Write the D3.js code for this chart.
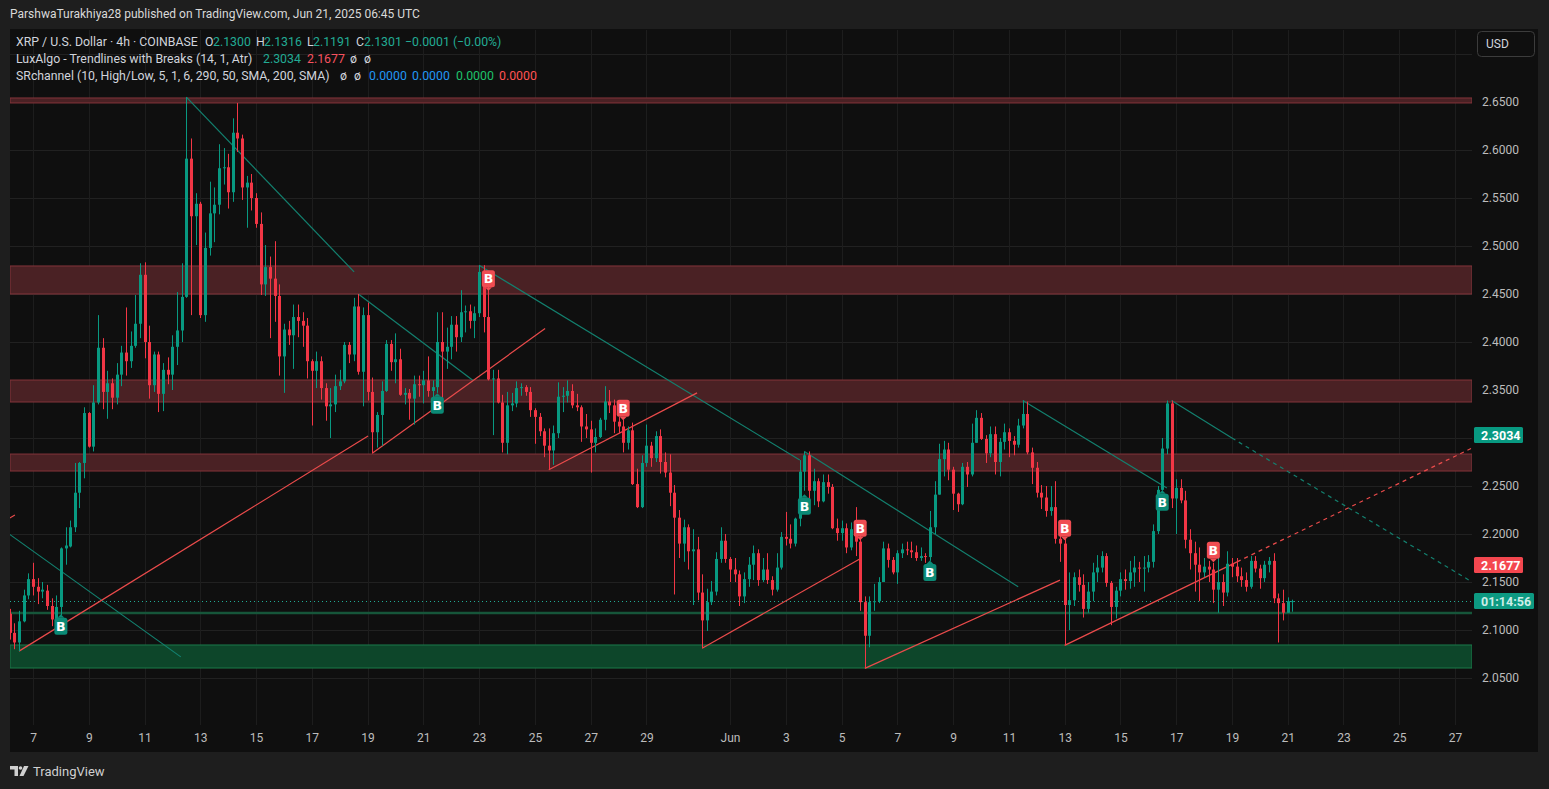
<!DOCTYPE html>
<html>
<head>
<meta charset="utf-8">
<script src="https://cdn.jsdelivr.net/npm/d3@7"></script>
<style>
  body { margin: 0; background: #1e1e1e; }
  svg { display: block; font-family: Roboto, "Noto Sans", sans-serif; }
</style>
</head>
<body>
<div id="chart"></div>
<script>
// 4h XRP/USD bars, first bar 2025-05-06 04:00 UTC
var barStart = Date.UTC(2025, 4, 6, 4),
    barStep = 4 * 3600 * 1000;

var opens = [
 2.117,2.097,2.087,2.109,2.136,2.153,2.145,2.140,2.141,2.125,
 2.111,2.124,2.185,2.187,2.207,2.243,2.274,2.326,2.291,2.337,
 2.394,2.348,2.357,2.342,2.366,2.389,2.380,2.396,2.419,2.470,
 2.400,2.355,2.387,2.346,2.371,2.366,2.395,2.412,2.447,2.591,
 2.531,2.544,2.428,2.498,2.534,2.543,2.581,2.582,2.556,2.618,
 2.612,2.561,2.566,2.550,2.523,2.460,2.478,2.466,2.448,2.385,
 2.413,2.407,2.426,2.422,2.417,2.380,2.370,2.380,2.352,2.333,
 2.335,2.354,2.359,2.397,2.387,2.437,2.369,2.428,2.348,2.306,
 2.324,2.349,2.398,2.379,2.382,2.345,2.347,2.341,2.356,2.355,
 2.360,2.349,2.353,2.400,2.390,2.395,2.418,2.405,2.431,2.432,
 2.422,2.430,2.473,2.426,2.361,2.362,2.337,2.295,2.334,2.336,
 2.352,2.353,2.348,2.329,2.322,2.307,2.292,2.287,2.305,2.343,
 2.344,2.349,2.334,2.332,2.312,2.309,2.295,2.301,2.319,2.338,
 2.334,2.317,2.312,2.295,2.308,2.252,2.228,2.274,2.292,2.279,
 2.302,2.275,2.264,2.243,2.217,2.190,2.207,2.182,2.184,2.139,
 2.110,2.129,2.140,2.174,2.193,2.174,2.163,2.158,2.135,2.153,
 2.168,2.180,2.152,2.163,2.152,2.142,2.165,2.197,2.195,2.190,
 2.216,2.265,2.282,2.245,2.255,2.234,2.254,2.249,2.206,2.201,
 2.206,2.186,2.205,2.192,2.129,2.094,2.129,2.130,2.150,2.185,
 2.173,2.160,2.180,2.184,2.183,2.181,2.175,2.177,2.176,2.207,
 2.241,2.278,2.288,2.267,2.242,2.231,2.270,2.262,2.295,2.321,
 2.299,2.284,2.304,2.275,2.296,2.306,2.297,2.293,2.313,2.325,
 2.285,2.269,2.243,2.238,2.224,2.228,2.195,2.190,2.126,2.131,
 2.155,2.147,2.122,2.140,2.160,2.165,2.177,2.149,2.124,2.141,
 2.153,2.151,2.160,2.165,2.164,2.165,2.171,2.203,2.246,2.289,
 2.336,2.237,2.248,2.235,2.194,2.180,2.168,2.160,2.166,2.163,
 2.142,2.150,2.139,2.169,2.166,2.156,2.152,2.145,2.172,2.164,
 2.154,2.168,2.172,2.133,2.128,2.118,2.1300
];
var highs = [
 2.122,2.107,2.120,2.142,2.159,2.170,2.154,2.150,2.147,2.133,
 2.136,2.186,2.207,2.214,2.274,2.275,2.332,2.327,2.355,2.428,
 2.404,2.370,2.362,2.378,2.396,2.436,2.411,2.449,2.482,2.483,
 2.417,2.390,2.390,2.378,2.384,2.407,2.452,2.482,2.655,2.612,
 2.555,2.546,2.514,2.567,2.561,2.606,2.602,2.596,2.633,2.649,
 2.616,2.573,2.575,2.555,2.535,2.501,2.489,2.505,2.460,2.419,
 2.422,2.439,2.439,2.431,2.425,2.382,2.390,2.385,2.357,2.352,
 2.366,2.371,2.400,2.400,2.446,2.450,2.436,2.441,2.363,2.327,
 2.359,2.402,2.402,2.409,2.393,2.352,2.351,2.365,2.365,2.370,
 2.385,2.360,2.431,2.431,2.415,2.427,2.427,2.454,2.438,2.439,
 2.437,2.480,2.480,2.465,2.371,2.371,2.345,2.348,2.347,2.359,
 2.357,2.355,2.353,2.331,2.326,2.310,2.310,2.313,2.358,2.353,
 2.360,2.356,2.346,2.334,2.325,2.318,2.310,2.321,2.354,2.350,
 2.340,2.322,2.319,2.312,2.316,2.268,2.282,2.314,2.296,2.307,
 2.309,2.285,2.283,2.251,2.225,2.215,2.210,2.205,2.197,2.158,
 2.143,2.151,2.181,2.207,2.200,2.176,2.175,2.162,2.160,2.176,
 2.188,2.184,2.175,2.180,2.156,2.180,2.202,2.223,2.210,2.217,
 2.277,2.286,2.286,2.268,2.258,2.262,2.262,2.252,2.216,2.214,
 2.211,2.212,2.228,2.198,2.135,2.135,2.148,2.155,2.192,2.190,
 2.176,2.183,2.190,2.192,2.192,2.188,2.186,2.180,2.224,2.255,
 2.294,2.297,2.295,2.270,2.243,2.274,2.275,2.315,2.329,2.326,
 2.303,2.312,2.312,2.300,2.315,2.310,2.302,2.320,2.339,2.338,
 2.290,2.275,2.251,2.250,2.250,2.255,2.205,2.195,2.160,2.160,
 2.163,2.158,2.150,2.170,2.178,2.182,2.180,2.151,2.145,2.160,
 2.163,2.172,2.177,2.171,2.177,2.178,2.210,2.250,2.300,2.339,
 2.339,2.257,2.257,2.245,2.205,2.192,2.186,2.175,2.172,2.170,
 2.175,2.158,2.182,2.175,2.175,2.165,2.160,2.177,2.177,2.168,
 2.172,2.176,2.180,2.138,2.142,2.134,2.1316
];
var lows = [
 2.090,2.080,2.078,2.108,2.132,2.136,2.127,2.133,2.121,2.104,
 2.105,2.115,2.168,2.186,2.202,2.227,2.258,2.290,2.286,2.335,
 2.330,2.320,2.330,2.335,2.354,2.365,2.373,2.394,2.404,2.383,
 2.341,2.348,2.327,2.328,2.356,2.350,2.376,2.400,2.446,2.428,
 2.501,2.425,2.421,2.490,2.504,2.533,2.564,2.539,2.546,2.598,
 2.548,2.519,2.537,2.519,2.449,2.448,2.404,2.421,2.365,2.347,
 2.397,2.372,2.405,2.395,2.362,2.313,2.352,2.340,2.318,2.300,
 2.327,2.350,2.357,2.378,2.380,2.366,2.333,2.339,2.284,2.290,
 2.292,2.348,2.370,2.357,2.344,2.335,2.319,2.314,2.343,2.336,
 2.343,2.335,2.347,2.337,2.372,2.382,2.390,2.400,2.410,2.414,
 2.404,2.426,2.410,2.360,2.303,2.336,2.285,2.283,2.328,2.332,
 2.344,2.344,2.322,2.294,2.302,2.280,2.267,2.272,2.300,2.327,
 2.337,2.331,2.328,2.296,2.300,2.264,2.285,2.300,2.308,2.326,
 2.305,2.305,2.285,2.288,2.251,2.227,2.227,2.270,2.270,2.275,
 2.263,2.259,2.229,2.137,2.175,2.171,2.163,2.126,2.131,2.081,
 2.099,2.126,2.136,2.170,2.170,2.150,2.150,2.125,2.128,2.145,
 2.152,2.146,2.150,2.148,2.136,2.140,2.163,2.188,2.185,2.187,
 2.208,2.245,2.236,2.230,2.228,2.233,2.242,2.205,2.193,2.193,
 2.180,2.183,2.177,2.120,2.060,2.082,2.120,2.128,2.150,2.165,
 2.158,2.148,2.175,2.178,2.175,2.172,2.172,2.170,2.172,2.200,
 2.241,2.260,2.256,2.225,2.223,2.230,2.249,2.260,2.295,2.298,
 2.274,2.280,2.262,2.260,2.288,2.280,2.282,2.290,2.310,2.283,
 2.252,2.238,2.226,2.218,2.219,2.190,2.171,2.084,2.100,2.125,
 2.140,2.113,2.118,2.130,2.150,2.160,2.145,2.105,2.112,2.135,
 2.142,2.143,2.145,2.150,2.140,2.160,2.165,2.200,2.245,2.283,
 2.227,2.200,2.232,2.185,2.163,2.140,2.130,2.155,2.150,2.128,
 2.118,2.125,2.135,2.155,2.150,2.145,2.140,2.143,2.160,2.143,
 2.150,2.160,2.128,2.087,2.110,2.118,2.1191
];
var closes = [
 2.097,2.087,2.109,2.136,2.153,2.145,2.140,2.142,2.125,2.111,
 2.124,2.185,2.188,2.207,2.243,2.274,2.326,2.291,2.337,2.394,
 2.348,2.357,2.342,2.366,2.389,2.380,2.396,2.419,2.470,2.400,
 2.355,2.387,2.346,2.371,2.366,2.395,2.412,2.447,2.591,2.531,
 2.544,2.428,2.498,2.534,2.543,2.581,2.582,2.556,2.618,2.612,
 2.561,2.566,2.550,2.523,2.460,2.478,2.466,2.448,2.385,2.413,
 2.407,2.426,2.422,2.417,2.380,2.370,2.380,2.352,2.333,2.335,
 2.354,2.359,2.397,2.387,2.437,2.369,2.428,2.348,2.306,2.324,
 2.349,2.398,2.379,2.382,2.345,2.347,2.341,2.356,2.355,2.360,
 2.349,2.353,2.400,2.390,2.395,2.418,2.405,2.431,2.432,2.422,
 2.430,2.473,2.426,2.361,2.362,2.337,2.295,2.334,2.336,2.352,
 2.353,2.348,2.329,2.322,2.307,2.292,2.287,2.305,2.343,2.344,
 2.349,2.334,2.332,2.312,2.309,2.295,2.301,2.319,2.338,2.334,
 2.317,2.312,2.295,2.308,2.252,2.228,2.274,2.292,2.279,2.302,
 2.275,2.264,2.243,2.217,2.190,2.207,2.182,2.184,2.139,2.110,
 2.129,2.140,2.174,2.193,2.174,2.163,2.158,2.135,2.153,2.168,
 2.180,2.152,2.163,2.152,2.142,2.165,2.197,2.195,2.190,2.216,
 2.265,2.282,2.245,2.255,2.234,2.254,2.249,2.206,2.201,2.206,
 2.186,2.205,2.192,2.129,2.094,2.129,2.130,2.150,2.185,2.173,
 2.160,2.180,2.184,2.183,2.181,2.175,2.177,2.176,2.207,2.241,
 2.278,2.288,2.267,2.242,2.231,2.270,2.262,2.295,2.321,2.299,
 2.284,2.304,2.275,2.296,2.306,2.297,2.293,2.313,2.325,2.285,
 2.269,2.243,2.238,2.224,2.228,2.195,2.190,2.126,2.131,2.155,
 2.147,2.122,2.140,2.160,2.165,2.177,2.149,2.124,2.141,2.153,
 2.151,2.160,2.165,2.164,2.165,2.171,2.203,2.246,2.289,2.336,
 2.237,2.248,2.235,2.194,2.180,2.168,2.160,2.166,2.163,2.142,
 2.150,2.139,2.169,2.166,2.156,2.152,2.145,2.172,2.164,2.154,
 2.168,2.172,2.133,2.128,2.118,2.130,2.1301
];

// axis ticks (2.30 label is hidden behind the upper trendline tag)
var priceTicks = [2.05, 2.10, 2.15, 2.20, 2.25, 2.35, 2.40, 2.45, 2.50, 2.55, 2.60, 2.65];
var gridPrices = [2.05, 2.10, 2.15, 2.20, 2.25, 2.30, 2.35, 2.40, 2.45, 2.50, 2.55, 2.60, 2.65, 2.70];
var dateTicks = ["2025-05-07","2025-05-09","2025-05-11","2025-05-13","2025-05-15","2025-05-17",
                 "2025-05-19","2025-05-21","2025-05-23","2025-05-25","2025-05-27","2025-05-29",
                 "2025-06-01","2025-06-03","2025-06-05","2025-06-07","2025-06-09","2025-06-11",
                 "2025-06-13","2025-06-15","2025-06-17","2025-06-19","2025-06-21","2025-06-23",
                 "2025-06-25","2025-06-27"];

// SR channel zones [low, high]
var resistZones = [[2.6490, 2.6542], [2.4500, 2.4792], [2.3375, 2.3604], [2.2656, 2.2833]];
var supportZone = [2.0604, 2.0844];
var supportLevel = 2.1177;

// LuxAlgo trendlines: [bar1, price1, bar2, price2, extendBar, extendPrice]
var downTrends = [
  [-1, 2.203, 36.8, 2.072],
  [38, 2.655, 74.1, 2.473],
  [75, 2.450, 99.7, 2.360],
  [101, 2.480, 170, 2.277],
  [171, 2.286, 217, 2.145],
  [218, 2.339, 249, 2.248],
  [250, 2.339, 263, 2.300, 314.7, 2.150]
];
var upTrends = [
  [0, 2.2167, 1.1, 2.2198],
  [2, 2.078, 77.1, 2.302],
  [78, 2.284, 115.2, 2.414],
  [116, 2.267, 147.9, 2.347],
  [149, 2.081, 182.9, 2.174],
  [184, 2.060, 226, 2.152],
  [227, 2.084, 264.1, 2.171, 314.7, 2.2897]
];
// break labels [bar, price]
var breaksUp = [[11, 2.104], [92, 2.334], [171, 2.229], [198, 2.160], [248, 2.233]];
var breaksDown = [[103, 2.466], [132, 2.331], [183, 2.206], [227, 2.206], [259, 2.183]];

var lastPrice = 2.1301, upperValue = 2.3034, lowerValue = 2.1677, countdown = "01:14:56";

var W = 1549, H = 789;
var plotL = 10, plotR = 1472, plotT = 30, plotB = 725;
var upColor = "#089981", downColor = "#f23645";

var x = d3.scaleUtc()
    .domain([new Date(Date.UTC(2025, 4, 7)), new Date(Date.UTC(2025, 5, 27))])
    .range([33, 1455]);
var y = d3.scaleLinear().domain([2.05, 2.65]).range([678, 102]);
function bx(b) { return x(new Date(barStart + b * barStep)); }

var svg = d3.select("#chart").append("svg").attr("width", W).attr("height", H);
svg.append("rect").attr("width", W).attr("height", H).attr("fill", "#1e1e1e");
svg.append("rect").attr("x", 10).attr("y", 29).attr("width", 1528).attr("height", 723).attr("fill", "#0f0f0f");

svg.append("clipPath").attr("id", "plotclip").append("rect")
   .attr("x", plotL).attr("y", plotT).attr("width", plotR - plotL).attr("height", plotB - plotT);

// grid
var grid = svg.append("g").attr("id", "grid");
grid.selectAll("line.h").data(gridPrices).enter().append("line")
    .attr("class", "h")
    .attr("x1", plotL).attr("x2", plotR)
    .attr("y1", function(d) { return Math.round(y(d)) + 0.5; })
    .attr("y2", function(d) { return Math.round(y(d)) + 0.5; })
    .attr("stroke", "#212121");
grid.selectAll("line.v").data(dateTicks).enter().append("line")
    .attr("class", "v")
    .attr("x1", function(d) { return Math.round(x(new Date(d))) + 0.5; })
    .attr("x2", function(d) { return Math.round(x(new Date(d))) + 0.5; })
    .attr("y1", plotT).attr("y2", plotB)
    .attr("stroke", "#1d1d1d");

var plot = svg.append("g").attr("clip-path", "url(#plotclip)");

// zones
plot.selectAll("rect.rz").data(resistZones).enter().append("rect")
    .attr("class", "rz")
    .attr("x", plotL).attr("width", plotR - plotL)
    .attr("y", function(d) { return y(d[1]); })
    .attr("height", function(d) { return y(d[0]) - y(d[1]); })
    .attr("fill", "#4a2124").attr("stroke", "#83343a").attr("stroke-width", 1);
plot.append("rect")
    .attr("x", plotL).attr("width", plotR - plotL)
    .attr("y", y(supportZone[1])).attr("height", y(supportZone[0]) - y(supportZone[1]))
    .attr("fill", "#0d462a").attr("stroke", "#1c7a4a");
plot.append("line")
    .attr("x1", plotL).attr("x2", plotR)
    .attr("y1", y(supportLevel)).attr("y2", y(supportLevel))
    .attr("stroke", "#16563a").attr("stroke-width", 2.5);

// last price dotted line
plot.append("line")
    .attr("x1", plotL).attr("x2", plotR)
    .attr("y1", Math.round(y(lastPrice)) + 0.5).attr("y2", Math.round(y(lastPrice)) + 0.5)
    .attr("stroke", "#22ab94").attr("stroke-dasharray", "1,3");

// trendlines
function drawTrends(data, color) {
  data.forEach(function(t) {
    plot.append("line")
        .attr("x1", bx(t[0])).attr("y1", y(t[1]))
        .attr("x2", bx(t[2])).attr("y2", y(t[3]))
        .attr("stroke", color).attr("stroke-width", 1.2);
    if (t.length > 4) {
      plot.append("line")
          .attr("x1", bx(t[2])).attr("y1", y(t[3]))
          .attr("x2", bx(t[4])).attr("y2", y(t[5]))
          .attr("stroke", color).attr("stroke-width", 1.2)
          .attr("stroke-dasharray", "4,4");
    }
  });
}
drawTrends(downTrends, "#13806f");
drawTrends(upTrends, "#ea4b4b");

// candles
var bars = d3.range(closes.length).map(function(i) {
  return { i: i, o: opens[i], h: Math.max(highs[i], opens[i], closes[i]),
           l: Math.min(lows[i], opens[i], closes[i]), c: closes[i] };
});
var candle = plot.append("g").selectAll("g").data(bars).enter().append("g");
candle.append("line")
    .attr("x1", function(d) { return Math.round(bx(d.i)) + 0.5; })
    .attr("x2", function(d) { return Math.round(bx(d.i)) + 0.5; })
    .attr("y1", function(d) { return y(d.h); })
    .attr("y2", function(d) { return y(d.l); })
    .attr("stroke", function(d) { return d.c >= d.o ? upColor : downColor; });
candle.append("rect")
    .attr("x", function(d) { return Math.round(bx(d.i)) - 1; })
    .attr("width", 3)
    .attr("y", function(d) { return y(Math.max(d.o, d.c)); })
    .attr("height", function(d) { return Math.max(1, Math.abs(y(d.o) - y(d.c))); })
    .attr("fill", function(d) { return d.c >= d.o ? upColor : downColor; });

// break labels
function drawBreaks(data, color, up) {
  var g = plot.append("g").selectAll("g").data(data).enter().append("g")
      .attr("transform", function(d) { return "translate(" + bx(d[0]) + "," + y(d[1]) + ")"; });
  g.append("rect").attr("x", -6.5).attr("y", -8.5).attr("width", 13).attr("height", 17)
      .attr("rx", 2.5).attr("fill", color);
  g.append("path").attr("d", up ? "M-3.5,-8.5L0,-12L3.5,-8.5Z" : "M-3.5,8.5L0,12L3.5,8.5Z").attr("fill", color);
  g.append("text").attr("text-anchor", "middle").attr("y", 4.5)
      .attr("font-size", 12.5).attr("font-weight", 700).attr("fill", "#ffffff")
      .attr("font-family", "'DejaVu Sans', sans-serif")
      .text("B");
}
drawBreaks(breaksUp, "#0b8a76", true);
drawBreaks(breaksDown, "#f04d52", false);

// price axis
var yAxis = d3.axisRight(y).tickValues(priceTicks).tickFormat(d3.format(".4f")).tickSize(0).tickPadding(3);
var ya = svg.append("g").attr("transform", "translate(1479,0)").call(yAxis);
ya.select(".domain").remove();
ya.selectAll("text").attr("fill", "#bdbdbd").attr("font-size", 12).attr("font-family", "Roboto, sans-serif");

// time axis
var xAxis = d3.axisBottom(x)
    .tickValues(dateTicks.map(function(d) { return new Date(d); }))
    .tickFormat(function(d) { return d.getUTCDate() === 1 ? d3.utcFormat("%b")(d) : d.getUTCDate(); })
    .tickSize(0).tickPadding(0);
var xa = svg.append("g").attr("transform", "translate(0,733)").call(xAxis);
xa.select(".domain").remove();
xa.selectAll("text").attr("fill", "#bdbdbd").attr("font-size", 12).attr("font-family", "Roboto, sans-serif");

// price labels on the axis
function priceTag(p, label, fill, textFill, w) {
  var yy = Math.round(y(p));
  svg.append("rect").attr("x", 1474).attr("y", yy - 8).attr("width", w).attr("height", 16)
     .attr("rx", 1.5).attr("fill", fill);
  svg.append("text").attr("x", 1481).attr("y", yy + 4.5).attr("fill", textFill)
     .attr("font-size", 12.5).attr("font-weight", 700).text(label);
}
priceTag(upperValue, d3.format(".4f")(upperValue), "#089981", "#ffffff", 49);
priceTag(lowerValue, d3.format(".4f")(lowerValue), "#f4474f", "#ffffff", 49);
priceTag(lastPrice, countdown, "#0d9a82", "#cdeee8", 60);

// USD button
svg.append("rect").attr("x", 1477.5).attr("y", 31.5).attr("width", 57).attr("height", 25)
   .attr("rx", 4).attr("fill", "#0f0f0f").attr("stroke", "#3c3c3c");
svg.append("text").attr("x", 1486).attr("y", 48).attr("fill", "#d1d4dc").attr("font-size", 12).text("USD");

// header
svg.append("text").attr("x", 10).attr("y", 18).attr("fill", "#d9d9d9").attr("font-size", 12)
   .text("ParshwaTurakhiya28 published on TradingView.com, Jun 21, 2025 06:45 UTC");

var legendGray = "#d1d4dc", teal = "#22ab94";
function legend(yy, parts) {
  var t = svg.append("text").attr("y", yy).attr("font-size", 12.3);
  parts.forEach(function(p) {
    t.append("tspan").attr("x", p[0]).attr("fill", p[2]).text(p[1]);
  });
}
legend(46, [
  [16, "XRP / U.S. Dollar \u00b7 4h \u00b7 COINBASE", legendGray],
  [205, "O", legendGray], [213, "2.1300", teal],
  [256, "H", legendGray], [264, "2.1316", teal],
  [307, "L", legendGray], [313, "2.1191", teal],
  [356, "C", legendGray], [364, "2.1301", teal],
  [405, "\u22120.0001 (\u22120.00%)", teal]
]);
legend(63, [
  [16, "LuxAlgo - Trendlines with Breaks (14, 1, Atr)", legendGray],
  [263, "2.3034", teal], [307, "2.1677", "#f7525f"],
  [350, "\u00f8", legendGray], [364, "\u00f8", legendGray]
]);
legend(80, [
  [16, "SRchannel (10, High/Low, 5, 1, 6, 290, 50, SMA, 200, SMA)", legendGray],
  [340, "\u00f8", legendGray], [354, "\u00f8", legendGray],
  [369, "0.0000", "#2196f3"], [412, "0.0000", "#2196f3"],
  [456, "0.0000", "#1ec26a"], [499, "0.0000", "#ff5252"]
]);

// TradingView footer logo
var logo = svg.append("g").attr("fill", "#d0d0d0");
logo.append("path").attr("d", "M10,766h8v10h-3.5v-6.5h-4.5z");
logo.append("circle").attr("cx", 20.5).attr("cy", 768).attr("r", 1.8);
logo.append("path").attr("d", "M24,766h4.5l-5,10h-4z");
svg.append("text").attr("x", 33).attr("y", 776).attr("fill", "#d0d0d0").attr("font-size", 13)
   .text("TradingView");
</script>
</body>
</html>
